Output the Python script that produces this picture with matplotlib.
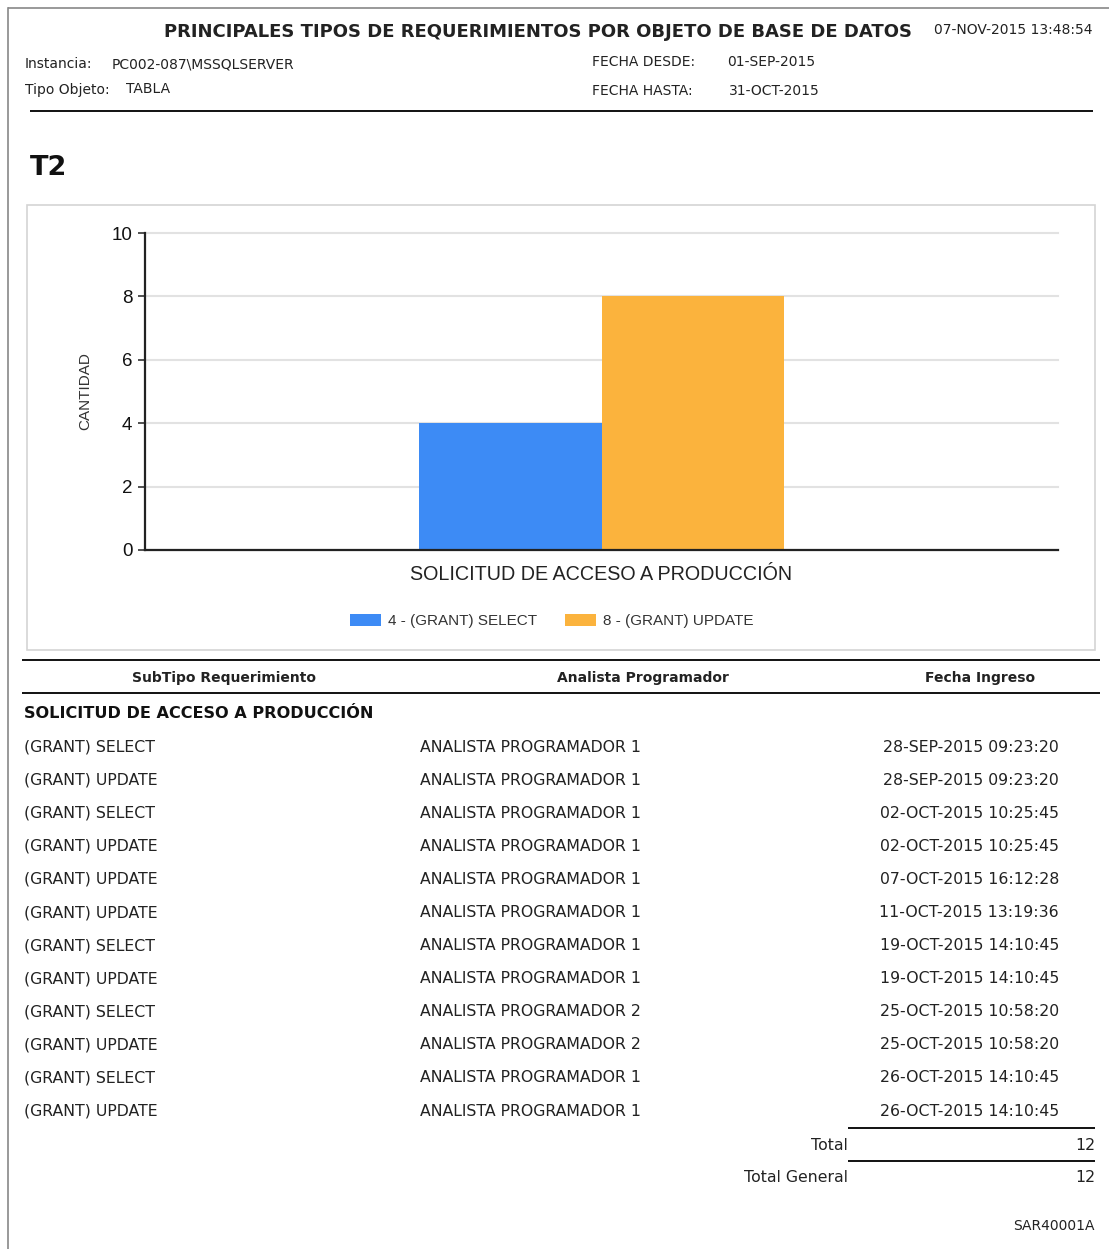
import matplotlib
matplotlib.use("Agg")
import matplotlib.pyplot as plt
from matplotlib.patches import Rectangle

W, H = 1109, 1249

# report header
report_title = "PRINCIPALES TIPOS DE REQUERIMIENTOS POR OBJETO DE BASE DE DATOS"
report_stamp = "07-NOV-2015 13:48:54"
instancia = "PC002-087\\MSSQLSERVER"
tipo_objeto = "TABLA"
fecha_desde = "01-SEP-2015"
fecha_hasta = "31-OCT-2015"
object_name = "T2"

# chart data
categories = ["SOLICITUD DE ACCESO A PRODUCCIÓN"]
series_names = ["(GRANT) SELECT", "(GRANT) UPDATE"]
series_values = [4, 8]
series_colors = ["#3d8bf5", "#fbb33d"]
y_ticks = [0, 2, 4, 6, 8, 10]

# detail table
table_headers = ["SubTipo Requerimiento", "Analista Programador", "Fecha Ingreso"]
group_name = "SOLICITUD DE ACCESO A PRODUCCIÓN"
subtipos = ["(GRANT) SELECT", "(GRANT) UPDATE", "(GRANT) SELECT", "(GRANT) UPDATE",
            "(GRANT) UPDATE", "(GRANT) UPDATE", "(GRANT) SELECT", "(GRANT) UPDATE",
            "(GRANT) SELECT", "(GRANT) UPDATE", "(GRANT) SELECT", "(GRANT) UPDATE"]
analistas = ["ANALISTA PROGRAMADOR 1"] * 8 + ["ANALISTA PROGRAMADOR 2"] * 2 + ["ANALISTA PROGRAMADOR 1"] * 2
fechas = ["28-SEP-2015 09:23:20", "28-SEP-2015 09:23:20", "02-OCT-2015 10:25:45",
          "02-OCT-2015 10:25:45", "07-OCT-2015 16:12:28", "11-OCT-2015 13:19:36",
          "19-OCT-2015 14:10:45", "19-OCT-2015 14:10:45", "25-OCT-2015 10:58:20",
          "25-OCT-2015 10:58:20", "26-OCT-2015 14:10:45", "26-OCT-2015 14:10:45"]
total = 12
total_general = 12
report_code = "SAR40001A"

TXT = "#222222"
SANS = "DejaVu Sans"
ARIAL = "Liberation Sans"

fig = plt.figure(figsize=(W / 100, H / 100), dpi=100)

# page overlay in pixel coordinates
page = fig.add_axes([0, 0, 1, 1])
page.set_xlim(0, W)
page.set_ylim(H, 0)
page.axis("off")


def txt(x, y, s, size=11.3, weight="normal", ha="left", family=SANS, color=TXT):
    page.text(x, y, s, fontsize=size, fontweight=weight, ha=ha, va="center",
              family=family, color=color)


def hline(y, x0, x1, lw=1.4, color="#111111"):
    page.plot([x0, x1], [y, y], color=color, lw=lw, solid_capstyle="butt")


# page border
hline(8, 8, W, lw=1.2, color="#888888")
page.plot([8, 8], [8, H], color="#888888", lw=1.2)

# header
txt(538, 32, report_title, size=13, weight="bold", ha="center")
txt(1093, 30, report_stamp, size=10, ha="right")
txt(25, 64, "Instancia:", size=10)
txt(112, 64, instancia, size=10)
txt(25, 90, "Tipo Objeto:", size=10)
txt(126, 89, tipo_objeto, size=10)
txt(592, 62, "FECHA DESDE:", size=10)
txt(727, 62, fecha_desde, size=10)
txt(592, 91, "FECHA HASTA:", size=10)
txt(729, 91, fecha_hasta, size=10)
hline(111, 30, 1093)

txt(30, 168, object_name, size=19.5, weight="bold", color="#111111")

# chart box
page.add_patch(Rectangle((27, 205), 1068, 445, fill=False, edgecolor="#d4d4d4", lw=1.2))

# chart
ax = fig.add_axes([145 / W, 1 - 550 / H, (1058 - 145) / W, (550 - 233) / H])
ax.set_facecolor("none")
bar_w = 0.2
n = len(series_values)
handles = []
for i, (name, val, col) in enumerate(zip(series_names, series_values, series_colors)):
    off = (i - (n - 1) / 2) * bar_w
    b = ax.bar(0 + off, val, width=bar_w, color=col, zorder=3,
               label=f"{val} - {name}")
    handles.append(b)
ax.set_xlim(-0.5, 0.5)
ax.set_ylim(0, 10)
ax.set_yticks(y_ticks)
ax.set_xticks(range(len(categories)))
ax.set_xticklabels(categories, fontsize=14.2, family=ARIAL, color="#222222")
ax.tick_params(axis="x", length=0, pad=11)
ax.tick_params(axis="y", length=5, width=1.2, color="#333333", pad=4,
               labelsize=13.5, labelcolor="#111111")
for lab in ax.get_yticklabels():
    lab.set_family(ARIAL)
ax.grid(axis="y", color="#e2e2e2", lw=1.5, zorder=0)
for gl in ax.get_ygridlines():
    gl.set_clip_on(False)
ax.set_axisbelow(True)
for s in ["top", "right"]:
    ax.spines[s].set_visible(False)
for s in ["left", "bottom"]:
    ax.spines[s].set_color("#222222")
    ax.spines[s].set_linewidth(1.6)
    ax.spines[s].set_zorder(4)
ax.set_ylabel("CANTIDAD", fontsize=11, family=ARIAL, color="#333333", labelpad=14)

ax.legend(handles=handles, loc="center", bbox_to_anchor=(552 / W, 1 - 621 / H),
          bbox_transform=fig.transFigure, ncol=2, frameon=False,
          prop={"family": ARIAL, "size": 11}, handlelength=2.0, handleheight=0.8,
          handletextpad=0.5, columnspacing=1.8, labelcolor="#333333")

# detail table
hline(660, 22, 1100)
txt(224, 678, table_headers[0], size=10, weight="bold", ha="center")
txt(643, 678, table_headers[1], size=10, weight="bold", ha="center")
txt(980, 678, table_headers[2], size=10, weight="bold", ha="center")
hline(693, 22, 1100)
txt(24, 713, group_name, size=11.6, weight="bold", color="#111111")

row_y0, row_step = 747, 33.1
for i, (st, an, fe) in enumerate(zip(subtipos, analistas, fechas)):
    y = row_y0 + i * row_step
    txt(24, y, st)
    txt(420, y, an)
    txt(1059, y, fe, ha="right")

hline(1128, 848, 1095)
txt(848, 1145, "Total", ha="right")
txt(1095, 1145, str(total), ha="right")
hline(1161, 848, 1095)
txt(848, 1178, "Total General", ha="right")
txt(1095, 1178, str(total_general), ha="right")
txt(1095, 1226, report_code, size=10, ha="right")

fig.savefig("out.png", dpi=100, facecolor="white")
